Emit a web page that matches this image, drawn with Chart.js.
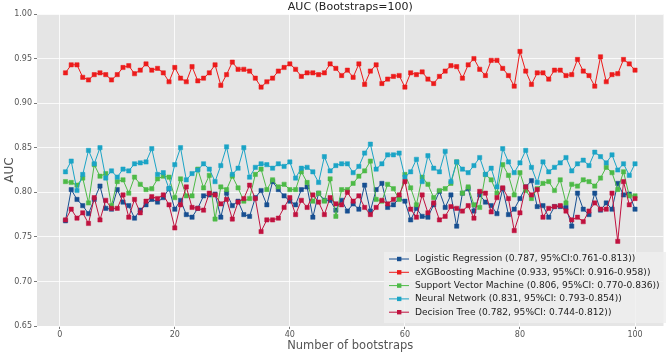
<!DOCTYPE html>
<html>
<head>
  <meta charset="utf-8">
  <title>AUC (Bootstraps=100)</title>
  <script src="https://cdn.jsdelivr.net/npm/chart.js"></script>
  <style>
    body { margin: 0; background: #fff; }
    #wrap { width: 668px; height: 353px; }
  </style>
</head>
<body>
  <div id="wrap"><canvas id="aucChart" width="668" height="353"></canvas></div>

  <script>
    // bootstrap rounds 1..100 (x categories)
    const bootstraps = Array.from({ length: 100 }, (_, i) => i + 1);
    const xTicks = [0, 20, 40, 60, 80, 100];
    const chartTitle = 'AUC (Bootstraps=100)';

    const seriesNames = [
      'Logistic Regression (0.787, 95%CI:0.761-0.813))',
      'eXGBoosting Machine (0.933, 95%CI: 0.916-0.958))',
      'Support Vector Machine (0.806, 95%CI: 0.770-0.836))',
      'Neural Network (0.831, 95%CI: 0.793-0.854))',
      'Decision Tree (0.782, 95%CI: 0.744-0.812))'
    ];
    const seriesColors = ['#174f91', '#ec1b1b', '#4dba47', '#1ba4c6', '#c0123f'];

    const logistic = [
      0.768, 0.803, 0.792, 0.785, 0.776, 0.792, 0.807, 0.782, 0.781, 0.803,
      0.789, 0.785, 0.771, 0.780, 0.786, 0.792, 0.789, 0.794, 0.804, 0.781,
      0.791, 0.775, 0.772, 0.782, 0.796, 0.797, 0.798, 0.772, 0.799, 0.785,
      0.790, 0.775, 0.773, 0.794, 0.802, 0.786, 0.812, 0.803, 0.796, 0.790,
      0.786, 0.803, 0.806, 0.772, 0.799, 0.791, 0.791, 0.780, 0.791, 0.779,
      0.787, 0.781, 0.808, 0.779, 0.803, 0.810, 0.783, 0.786, 0.793, 0.790,
      0.769, 0.782, 0.773, 0.772, 0.786, 0.801, 0.783, 0.797, 0.762, 0.799,
      0.804, 0.779, 0.797, 0.789, 0.785, 0.776, 0.804, 0.775, 0.781, 0.793,
      0.806, 0.813, 0.784, 0.785, 0.772, 0.784, 0.784, 0.783, 0.762, 0.799,
      0.781, 0.775, 0.799, 0.780, 0.788, 0.781, 0.810, 0.797, 0.798, 0.781
    ];
    const xgboost = [
      0.934, 0.943, 0.943, 0.929, 0.926, 0.932, 0.934, 0.932, 0.926, 0.932,
      0.940, 0.942, 0.933, 0.937, 0.944, 0.937, 0.939, 0.934, 0.924, 0.940,
      0.928, 0.924, 0.941, 0.925, 0.928, 0.934, 0.943, 0.920, 0.932, 0.946,
      0.938, 0.938, 0.936, 0.928, 0.918, 0.924, 0.928, 0.936, 0.940, 0.944,
      0.938, 0.930, 0.934, 0.934, 0.932, 0.934, 0.944, 0.939, 0.931, 0.937,
      0.929, 0.944, 0.921, 0.936, 0.943, 0.922, 0.927, 0.930, 0.931, 0.918,
      0.934, 0.932, 0.935, 0.927, 0.922, 0.930, 0.936, 0.942, 0.941, 0.928,
      0.943, 0.950, 0.938, 0.931, 0.948, 0.948, 0.939, 0.931, 0.919, 0.958,
      0.936, 0.921, 0.934, 0.934, 0.927, 0.937, 0.937, 0.931, 0.932, 0.949,
      0.936, 0.931, 0.919, 0.952, 0.924, 0.932, 0.933, 0.949, 0.944, 0.937
    ];
    const svm = [
      0.812, 0.811, 0.808, 0.816, 0.788, 0.831, 0.818, 0.821, 0.785, 0.812,
      0.814, 0.799, 0.817, 0.809, 0.803, 0.804, 0.815, 0.818, 0.817, 0.794,
      0.815, 0.796, 0.796, 0.826, 0.805, 0.819, 0.770, 0.806, 0.803, 0.818,
      0.805, 0.790, 0.793, 0.820, 0.826, 0.803, 0.814, 0.806, 0.809, 0.803,
      0.803, 0.823, 0.811, 0.790, 0.799, 0.790, 0.815, 0.773, 0.803, 0.803,
      0.810, 0.818, 0.824, 0.835, 0.792, 0.790, 0.809, 0.804, 0.792, 0.820,
      0.805, 0.786, 0.817, 0.809, 0.794, 0.802, 0.804, 0.810, 0.834, 0.799,
      0.806, 0.786, 0.783, 0.820, 0.814, 0.799, 0.831, 0.819, 0.797, 0.822,
      0.802, 0.793, 0.804, 0.810, 0.812, 0.802, 0.814, 0.788, 0.809, 0.807,
      0.814, 0.812, 0.807, 0.816, 0.828, 0.822, 0.803, 0.823, 0.796, 0.796
    ];
    const neuralNet = [
      0.823, 0.835, 0.802, 0.820, 0.847, 0.832, 0.850, 0.816, 0.824, 0.817,
      0.826, 0.824, 0.832, 0.833, 0.834, 0.849, 0.820, 0.822, 0.804, 0.831,
      0.850, 0.814, 0.821, 0.825, 0.832, 0.826, 0.812, 0.830, 0.851, 0.820,
      0.827, 0.850, 0.817, 0.828, 0.832, 0.831, 0.827, 0.832, 0.829, 0.834,
      0.816, 0.827, 0.828, 0.823, 0.811, 0.840, 0.824, 0.830, 0.832, 0.832,
      0.822, 0.829, 0.844, 0.854, 0.826, 0.832, 0.842, 0.842, 0.844, 0.817,
      0.823, 0.837, 0.812, 0.841, 0.827, 0.823, 0.846, 0.812, 0.834, 0.826,
      0.822, 0.830, 0.839, 0.820, 0.827, 0.806, 0.849, 0.834, 0.822, 0.833,
      0.847, 0.828, 0.811, 0.834, 0.823, 0.828, 0.833, 0.839, 0.824, 0.832,
      0.836, 0.830, 0.845, 0.840, 0.833, 0.842, 0.825, 0.832, 0.819, 0.832
    ];
    const decisionTree = [
      0.769, 0.781, 0.771, 0.777, 0.765, 0.794, 0.769, 0.791, 0.782, 0.782,
      0.797, 0.772, 0.792, 0.777, 0.790, 0.795, 0.793, 0.797, 0.786, 0.760,
      0.786, 0.806, 0.783, 0.782, 0.780, 0.799, 0.797, 0.787, 0.792, 0.770,
      0.789, 0.793, 0.808, 0.793, 0.756, 0.769, 0.769, 0.771, 0.783, 0.794,
      0.775, 0.791, 0.783, 0.797, 0.789, 0.775, 0.794, 0.787, 0.786, 0.800,
      0.790, 0.796, 0.783, 0.775, 0.783, 0.791, 0.787, 0.792, 0.797, 0.812,
      0.781, 0.772, 0.797, 0.777, 0.788, 0.769, 0.773, 0.784, 0.782, 0.779,
      0.785, 0.771, 0.801, 0.799, 0.778, 0.794, 0.805, 0.793, 0.757, 0.777,
      0.806, 0.797, 0.803, 0.772, 0.782, 0.784, 0.785, 0.779, 0.769, 0.772,
      0.767, 0.779, 0.788, 0.781, 0.781, 0.799, 0.745, 0.812, 0.786, 0.793
    ];

    const allSeries = [logistic, xgboost, svm, neuralNet, decisionTree];

    // grey ggplot-like panel + title centred over the panel (matplotlib style)
    const panelBg = {
      id: 'panelBg',
      beforeDraw(chart) {
        const { ctx, chartArea: a } = chart;
        ctx.save();
        ctx.fillStyle = '#e5e5e5';
        ctx.fillRect(a.left, a.top, a.right - a.left, a.bottom - a.top);
        ctx.fillStyle = '#222';
        ctx.font = '11px "DejaVu Sans"';
        ctx.textAlign = 'center';
        ctx.textBaseline = 'middle';
        ctx.fillText(chartTitle, (a.left + a.right) / 2, 7);
        ctx.restore();
      }
    };

    // legend drawn inside the panel, lower right
    const innerLegend = {
      id: 'innerLegend',
      afterDraw(chart) {
        const { ctx } = chart;
        const x0 = 384, y0 = 252, w = 282, rowH = 13.3;
        ctx.save();
        ctx.fillStyle = 'rgba(238,238,238,0.85)';
        ctx.fillRect(x0, y0, w, 71);
        ctx.font = '9.1px "DejaVu Sans"';
        ctx.textBaseline = 'middle';
        seriesNames.forEach((name, i) => {
          const y = 259 + i * rowH;
          ctx.strokeStyle = seriesColors[i];
          ctx.lineWidth = 1;
          ctx.beginPath();
          ctx.moveTo(389, y);
          ctx.lineTo(409, y);
          ctx.stroke();
          ctx.fillStyle = seriesColors[i];
          ctx.fillRect(397, y - 2.2, 4.4, 4.4);
          ctx.fillStyle = '#222';
          ctx.fillText(name, 415, y);
        });
        ctx.restore();
      }
    };

    const datasets = allSeries.map((vals, i) => ({
      label: seriesNames[i],
      data: vals.map((v, k) => ({ x: bootstraps[k], y: v })),
      borderColor: seriesColors[i],
      backgroundColor: seriesColors[i],
      borderWidth: 1,
      pointStyle: 'rect',
      pointRadius: 3,
      pointBorderWidth: 0.5,
      tension: 0,
      order: allSeries.length - i
    }));

    new Chart(document.getElementById('aucChart'), {
      type: 'line',
      data: { datasets: datasets },
      plugins: [panelBg, innerLegend],
      options: {
        responsive: false,
        animation: false,
        layout: { padding: { left: 0, right: 2, top: 14, bottom: 0 } },
        plugins: {
          legend: { display: false },
          tooltip: { enabled: false },
          title: { display: false }
        },
        scales: {
          x: {
            type: 'linear',
            min: -3.95,
            max: 104.95,
            afterBuildTicks(scale) { scale.ticks = xTicks.map(v => ({ value: v })); },
            afterFit(scale) { scale.height = 27; },
            border: { display: false },
            grid: { color: '#ffffff', lineWidth: 0.8, tickColor: '#555', tickLength: 3 },
            ticks: { color: '#555', font: { family: 'DejaVu Sans', size: 8 }, padding: 1, maxRotation: 0 },
            title: {
              display: true,
              text: 'Number of bootstraps',
              color: '#555',
              font: { family: 'DejaVu Sans', size: 11.5 },
              padding: 0
            }
          },
          y: {
            min: 0.65,
            max: 1.0,
            afterFit(scale) { scale.width = 37; },
            border: { display: false },
            grid: { color: '#ffffff', lineWidth: 0.8, tickColor: '#555', tickLength: 3 },
            ticks: {
              stepSize: 0.05,
              color: '#555',
              font: { family: 'DejaVu Sans', size: 8 },
              padding: 2,
              callback: v => v.toFixed(2)
            },
            title: {
              display: true,
              text: 'AUC',
              color: '#555',
              font: { family: 'DejaVu Sans', size: 12 },
              padding: { top: 3, bottom: 0 }
            }
          }
        }
      }
    });
  </script>
</body>
</html>
